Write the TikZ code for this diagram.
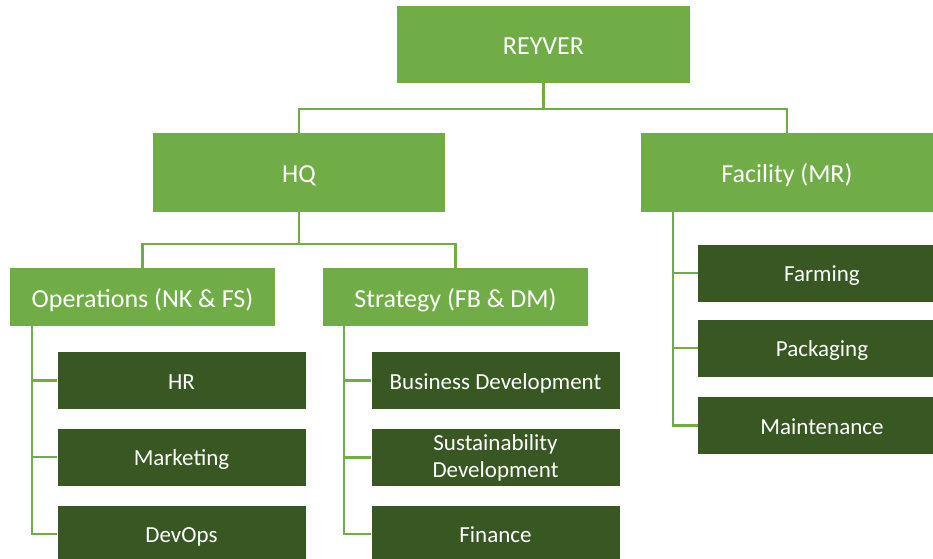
\documentclass[tikz,border=0pt]{standalone}
\usepackage{fontspec}
\setmainfont{Carlito}

\definecolor{leafgreen}{HTML}{70AD47}
\definecolor{forestgreen}{HTML}{385723}

\tikzset{
  unit/.style={fill=leafgreen, text=white, inner sep=0pt,
    text height=20.5pt, text depth=0pt, font=\fontsize{26}{31}\selectfont},
  team/.style={fill=forestgreen, text=white, inner sep=0pt,
    text height=17.5pt, text depth=0pt,
    minimum width=248pt, minimum height=57pt, font=\fontsize{23}{27}\selectfont},
  link/.style={draw=leafgreen, line width=2.5pt}
}

\begin{document}
\begin{tikzpicture}[x=1pt,y=1pt]
  \useasboundingbox (0,0) rectangle (933,558);

  % company and its two sites
  \node[unit, minimum width=293pt, minimum height=77pt] (reyver) at (543.5,513.5) {REYVER};
  \node[unit, minimum width=292pt, minimum height=79pt] (hq) at (299,385.5) {HQ};
  \node[unit, minimum width=292pt, minimum height=79pt] (facility) at (787,385.5) {Facility (MR)};

  % departments at HQ
  \node[unit, minimum width=265pt, minimum height=58pt] (operations) at (142.5,261) {Operations (NK \& FS)};
  \node[unit, minimum width=265pt, minimum height=58pt] (strategy) at (455.5,261) {Strategy (FB \& DM)};

  % teams
  \node[team] (hr) at (181.5,177.5) {HR};
  \node[team] (marketing) at (181.5,101) {Marketing};
  \node[team] (devops) at (181.5,24) {DevOps};

  \node[team] (business) at (495.5,177.5) {Business Development};
  \node[team, align=center, text height=, text depth=] (sustain) at (495.5,100.5) {Sustainability\\Development};
  \node[team] (finance) at (495.5,24) {Finance};

  \node[team] (farming) at (822,285) {Farming};
  \node[team] (packaging) at (822,210) {Packaging};
  \node[team] (maintenance) at (822,132.5) {Maintenance};

  % tree lines
  \draw[link] (reyver.south) -- ++(0,-26) -| (hq.north);
  \draw[link] (reyver.south) -- ++(0,-26) -| (facility.north);
  \draw[link] (hq.south) -- ++(0,-32) -| (operations.north);
  \draw[link] (hq.south) -- ++(0,-32) -| (strategy.north);

  \foreach \t in {hr,marketing,devops}
    \draw[link] ([xshift=22pt]operations.south west) |- (\t.west);
  \foreach \t in {business,sustain,finance}
    \draw[link] ([xshift=21pt]strategy.south west) |- (\t.west);
  \foreach \t in {farming,packaging,maintenance}
    \draw[link] ([xshift=32pt]facility.south west) |- (\t.west);
\end{tikzpicture}
\end{document}
